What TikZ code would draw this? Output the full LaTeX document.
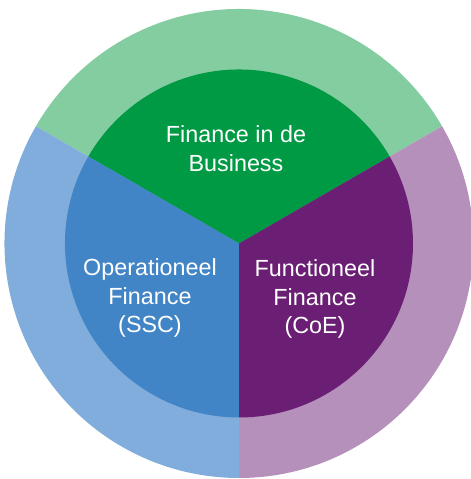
\documentclass[tikz,border=0pt]{standalone}
\usepackage{fontspec}
\setmainfont{Liberation Sans}
\usepackage{tikz}
\definecolor{greenout}{HTML}{84CDA1}
\definecolor{greenin}{HTML}{009A44}
\definecolor{blueout}{HTML}{80ADDC}
\definecolor{bluein}{HTML}{4285C6}
\definecolor{purpleout}{HTML}{B590BB}
\definecolor{purplein}{HTML}{6B1F74}
\tikzstyle{sectortext}=[text=white, align=center, inner sep=0pt, font=\fontsize{16.6}{20.5}\selectfont]

\begin{document}
\begin{tikzpicture}
        \useasboundingbox (0,0) rectangle (11.775,11.975);
        \coordinate (C) at (5.975, 5.8875);
        % outer ring
        \fill[greenout] (C) -- ++(30:5.8625) arc[start angle=30, end angle=150, radius=5.8625] -- cycle;
        \fill[blueout] (C) -- ++(150:5.8625) arc[start angle=150, end angle=270, radius=5.8625] -- cycle;
        \fill[purpleout] (C) -- ++(270:5.8625) arc[start angle=270, end angle=390, radius=5.8625] -- cycle;
        % inner disc
        \fill[greenin] (C) -- ++(30:4.35) arc[start angle=30, end angle=150, radius=4.35] -- cycle;
        \fill[bluein] (C) -- ++(150:4.35) arc[start angle=150, end angle=270, radius=4.35] -- cycle;
        \fill[purplein] (C) -- ++(270:4.35) arc[start angle=270, end angle=390, radius=4.35] -- cycle;
        \node[sectortext] (business) at (5.9, 8.25) {Finance in de\\Business};
        \node[sectortext] (ssc) at (3.75, 4.525) {Operationeel\\Finance\\(SSC)};
        \node[sectortext] (coe) at (7.875, 4.5) {Functioneel\\Finance\\(CoE)};
    \end{tikzpicture}
\end{document}
